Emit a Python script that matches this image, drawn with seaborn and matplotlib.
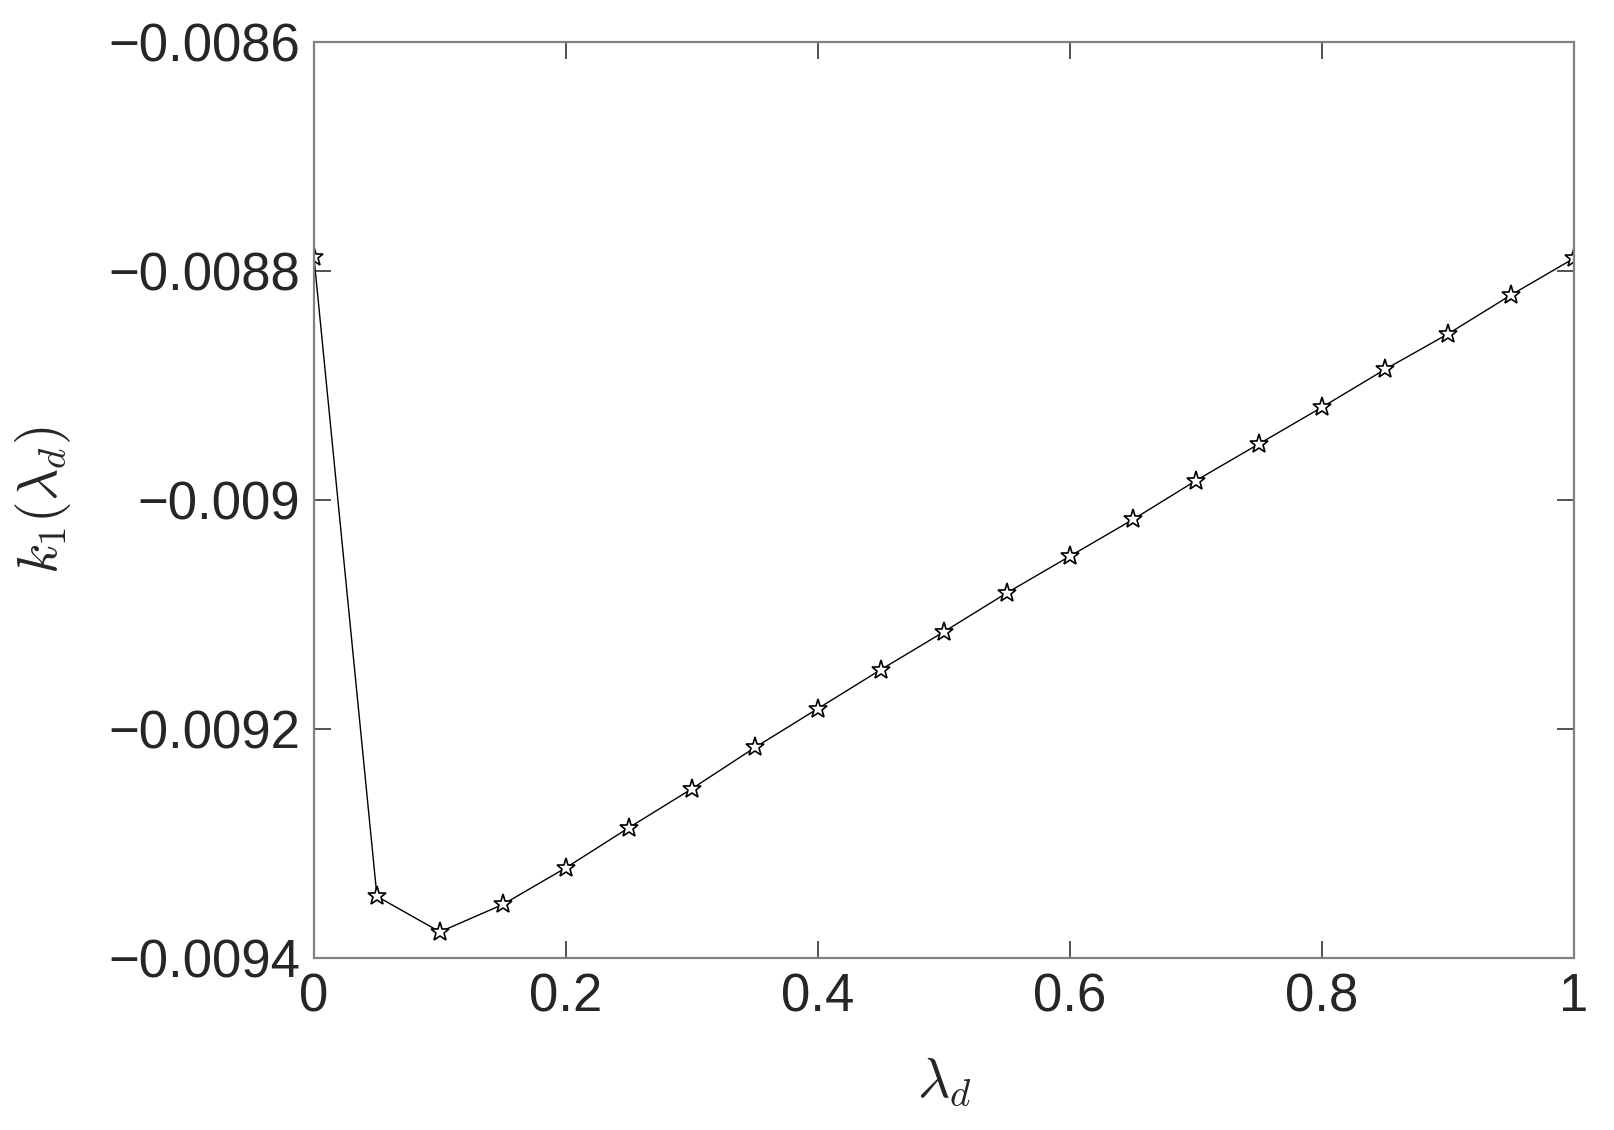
import matplotlib
matplotlib.use('Agg')
import matplotlib.pyplot as plt
import pandas as pd
import seaborn as sns

# Data
lam_d = [0.0, 0.05, 0.1, 0.15, 0.2, 0.25, 0.3, 0.35, 0.4, 0.45, 0.5,
         0.55, 0.6, 0.65, 0.7, 0.75, 0.8, 0.85, 0.9, 0.95, 1.0]
k1 = [-0.008788, -0.009346, -0.009377, -0.009353, -0.009321, -0.009286,
      -0.009252, -0.009216, -0.009182, -0.009148, -0.009115, -0.009081,
      -0.009049, -0.009017, -0.008983, -0.008951, -0.008919, -0.008886,
      -0.008855, -0.008821, -0.008789]
x_ticks = [0, 0.2, 0.4, 0.6, 0.8, 1]
x_tick_labels = ['0', '0.2', '0.4', '0.6', '0.8', '1']
y_ticks = [-0.0094, -0.0092, -0.009, -0.0088, -0.0086]
y_tick_labels = ['\u22120.0094', '\u22120.0092', '\u22120.009', '\u22120.0088', '\u22120.0086']

df = pd.DataFrame({'lam': lam_d, 'k1': k1})

sns.set_style('ticks')
plt.rcParams['font.family'] = ['Liberation Sans', 'DejaVu Sans']
plt.rcParams['mathtext.fontset'] = 'cm'

fig = plt.figure(figsize=(16.15, 11.3), dpi=100)
ax = fig.add_axes([0.1944, 0.152, 0.7802, 0.811])

sns.lineplot(data=df, x='lam', y='k1', ax=ax, color='black', linewidth=1.0,
             marker='*', markersize=14, markerfacecolor='white',
             markeredgecolor='black', markeredgewidth=1.2)

ax.set_xlim(0, 1)
ax.set_ylim(-0.0094, -0.0086)
ax.set_xticks(x_ticks)
ax.set_xticklabels(x_tick_labels)
ax.set_yticks(y_ticks)
ax.set_yticklabels(y_tick_labels)
ax.tick_params(direction='in', length=12, width=1.2, color='#333333',
               labelsize=38, labelcolor='#262626', top=True, right=True, pad=10)
for s in ax.spines.values():
    s.set_visible(True)
    s.set_color('#808080')
    s.set_linewidth(1.6)

ax.set_xlabel(r'$\lambda_d$', fontsize=40, color='#262626', labelpad=24)
ax.set_ylabel(r'$k_1(\lambda_d)$', fontsize=40, color='#262626', labelpad=25)

fig.savefig('out.png', dpi=100, facecolor='white')
